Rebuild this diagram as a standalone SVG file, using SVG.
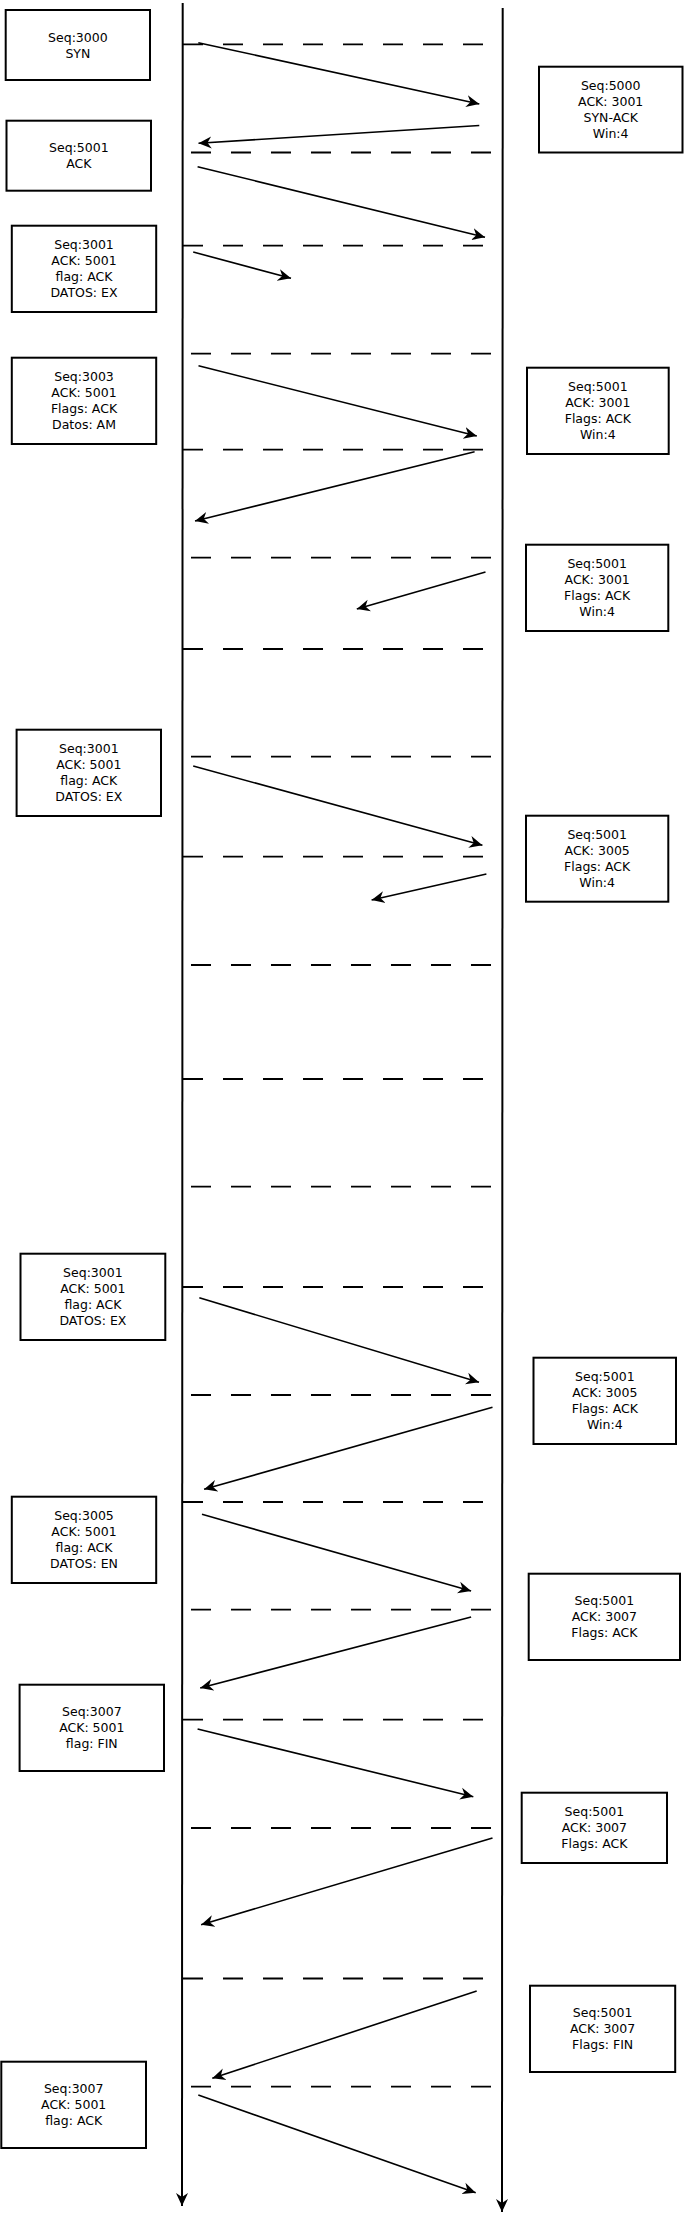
<svg xmlns="http://www.w3.org/2000/svg" width="684" height="2217" viewBox="0 0 684 2217">
<style>
.box{fill:#fff;stroke:#000;stroke-width:2}
.t{font-family:"DejaVu Sans","Liberation Sans",sans-serif;font-size:12.5px;fill:#000;text-anchor:middle}
.life{stroke:#000;stroke-width:2;fill:none}
.da{stroke:#000;stroke-width:1.8;stroke-dasharray:20 20;fill:none}
.msg{stroke:#000;stroke-width:1.6;fill:none;marker-end:url(#ah)}
</style>
<defs>
<marker id="ah" markerUnits="userSpaceOnUse" markerWidth="14" markerHeight="14" refX="13" refY="7" orient="auto">
<path d="M0,1 L13,7 L0,13 L4,7 Z" fill="#000"/>
</marker>
</defs>
<rect width="684" height="2217" fill="#fff"/>
<g id="lifelines">
<line class="life" x1="182.7" y1="3" x2="182" y2="2206" marker-end="url(#ah)"/>
<line class="life" x1="502.7" y1="8" x2="502" y2="2212" marker-end="url(#ah)"/>
</g>
<g id="separators">
<line class="da" x1="183" y1="44.3" x2="483" y2="44.3"/>
<line class="da" x1="191" y1="152.5" x2="491" y2="152.5"/>
<line class="da" x1="183" y1="245.7" x2="483" y2="245.7"/>
<line class="da" x1="191" y1="353.7" x2="491" y2="353.7"/>
<line class="da" x1="183" y1="449.7" x2="483" y2="449.7"/>
<line class="da" x1="191" y1="557.7" x2="491" y2="557.7"/>
<line class="da" x1="183" y1="649" x2="483" y2="649"/>
<line class="da" x1="191" y1="756.7" x2="491" y2="756.7"/>
<line class="da" x1="183" y1="856.7" x2="483" y2="856.7"/>
<line class="da" x1="191" y1="965" x2="491" y2="965"/>
<line class="da" x1="183" y1="1079" x2="483" y2="1079"/>
<line class="da" x1="191" y1="1186.7" x2="491" y2="1186.7"/>
<line class="da" x1="183" y1="1287" x2="483" y2="1287"/>
<line class="da" x1="191" y1="1395" x2="491" y2="1395"/>
<line class="da" x1="183" y1="1502" x2="483" y2="1502"/>
<line class="da" x1="191" y1="1609.7" x2="491" y2="1609.7"/>
<line class="da" x1="183" y1="1719.7" x2="483" y2="1719.7"/>
<line class="da" x1="191" y1="1828" x2="491" y2="1828"/>
<line class="da" x1="183" y1="1978.5" x2="483" y2="1978.5"/>
<line class="da" x1="191" y1="2086.7" x2="491" y2="2086.7"/>
</g>
<g id="connectors">
<line class="msg" x1="198.3" y1="42.7" x2="479.3" y2="104"/>
<line class="msg" x1="479.3" y1="125.5" x2="198.5" y2="143.3"/>
<line class="msg" x1="197.6" y1="166.7" x2="485" y2="237.3"/>
<line class="msg" x1="193.2" y1="252" x2="291" y2="278.3"/>
<line class="msg" x1="198.5" y1="365.7" x2="476.8" y2="436"/>
<line class="msg" x1="474.6" y1="451.7" x2="195" y2="521"/>
<line class="msg" x1="485.5" y1="572" x2="356.8" y2="609"/>
<line class="msg" x1="193.2" y1="766" x2="482.4" y2="845.3"/>
<line class="msg" x1="486.4" y1="874" x2="371.6" y2="900"/>
<line class="msg" x1="199.3" y1="1297.7" x2="479" y2="1382.3"/>
<line class="msg" x1="492.5" y1="1407.3" x2="204.1" y2="1489.3"/>
<line class="msg" x1="202" y1="1514.3" x2="471.1" y2="1591"/>
<line class="msg" x1="471.1" y1="1617" x2="200.2" y2="1688"/>
<line class="msg" x1="197.6" y1="1729" x2="473.3" y2="1796.7"/>
<line class="msg" x1="492.5" y1="1838" x2="201.1" y2="1924.7"/>
<line class="msg" x1="476.7" y1="1991" x2="212.3" y2="2078.3"/>
<line class="msg" x1="198.3" y1="2095" x2="475.7" y2="2192.7"/>
</g>
<g id="b1"><rect class="box" x="5.7" y="10" width="144.3" height="70"/>
<text class="t" x="77.9" y="41.5">Seq:3000</text><text class="t" x="77.9" y="57.5">SYN</text></g>
<g id="b2"><rect class="box" x="539" y="66.7" width="143.5" height="85.8"/>
<text class="t" x="610.7" y="90.2">Seq:5000</text><text class="t" x="610.7" y="106.2">ACK: 3001</text><text class="t" x="610.7" y="122.2">SYN-ACK</text><text class="t" x="610.7" y="138.2">Win:4</text></g>
<g id="b3"><rect class="box" x="6.5" y="120.7" width="144.5" height="70"/>
<text class="t" x="78.8" y="152.2">Seq:5001</text><text class="t" x="78.8" y="168.2">ACK</text></g>
<g id="b4"><rect class="box" x="11.8" y="225.7" width="144.4" height="86.3"/>
<text class="t" x="84" y="249.3">Seq:3001</text><text class="t" x="84" y="265.3">ACK: 5001</text><text class="t" x="84" y="281.3">flag: ACK</text><text class="t" x="84" y="297.3">DATOS: EX</text></g>
<g id="b5"><rect class="box" x="11.8" y="357.7" width="144.4" height="86.3"/>
<text class="t" x="84" y="381.3">Seq:3003</text><text class="t" x="84" y="397.3">ACK: 5001</text><text class="t" x="84" y="413.3">Flags: ACK</text><text class="t" x="84" y="429.3">Datos: AM</text></g>
<g id="b6"><rect class="box" x="527" y="367.7" width="141.7" height="86.3"/>
<text class="t" x="597.8" y="391.3">Seq:5001</text><text class="t" x="597.8" y="407.3">ACK: 3001</text><text class="t" x="597.8" y="423.3">Flags: ACK</text><text class="t" x="597.8" y="439.3">Win:4</text></g>
<g id="b7"><rect class="box" x="526" y="544.7" width="142.3" height="86.3"/>
<text class="t" x="597.2" y="568.3">Seq:5001</text><text class="t" x="597.2" y="584.3">ACK: 3001</text><text class="t" x="597.2" y="600.3">Flags: ACK</text><text class="t" x="597.2" y="616.3">Win:4</text></g>
<g id="b8"><rect class="box" x="16.6" y="729.7" width="144.4" height="86.3"/>
<text class="t" x="88.8" y="753.3">Seq:3001</text><text class="t" x="88.8" y="769.3">ACK: 5001</text><text class="t" x="88.8" y="785.3">flag: ACK</text><text class="t" x="88.8" y="801.3">DATOS: EX</text></g>
<g id="b9"><rect class="box" x="526" y="815.7" width="142.3" height="86"/>
<text class="t" x="597.2" y="839.2">Seq:5001</text><text class="t" x="597.2" y="855.2">ACK: 3005</text><text class="t" x="597.2" y="871.2">Flags: ACK</text><text class="t" x="597.2" y="887.2">Win:4</text></g>
<g id="b10"><rect class="box" x="20.5" y="1253.7" width="144.8" height="86.3"/>
<text class="t" x="92.9" y="1277.3">Seq:3001</text><text class="t" x="92.9" y="1293.3">ACK: 5001</text><text class="t" x="92.9" y="1309.3">flag: ACK</text><text class="t" x="92.9" y="1325.3">DATOS: EX</text></g>
<g id="b11"><rect class="box" x="533.5" y="1357.7" width="142.5" height="86.3"/>
<text class="t" x="604.8" y="1381.3">Seq:5001</text><text class="t" x="604.8" y="1397.3">ACK: 3005</text><text class="t" x="604.8" y="1413.3">Flags: ACK</text><text class="t" x="604.8" y="1429.3">Win:4</text></g>
<g id="b12"><rect class="box" x="11.8" y="1496.7" width="144.4" height="86.3"/>
<text class="t" x="84" y="1520.3">Seq:3005</text><text class="t" x="84" y="1536.3">ACK: 5001</text><text class="t" x="84" y="1552.3">flag: ACK</text><text class="t" x="84" y="1568.3">DATOS: EN</text></g>
<g id="b13"><rect class="box" x="528.7" y="1573.7" width="151.3" height="86.3"/>
<text class="t" x="604.4" y="1605.3">Seq:5001</text><text class="t" x="604.4" y="1621.3">ACK: 3007</text><text class="t" x="604.4" y="1637.3">Flags: ACK</text></g>
<g id="b14"><rect class="box" x="19.6" y="1684.7" width="144.4" height="86.3"/>
<text class="t" x="91.8" y="1716.3">Seq:3007</text><text class="t" x="91.8" y="1732.3">ACK: 5001</text><text class="t" x="91.8" y="1748.3">flag: FIN</text></g>
<g id="b15"><rect class="box" x="521.7" y="1792.7" width="145.3" height="70.3"/>
<text class="t" x="594.4" y="1816.3">Seq:5001</text><text class="t" x="594.4" y="1832.3">ACK: 3007</text><text class="t" x="594.4" y="1848.3">Flags: ACK</text></g>
<g id="b16"><rect class="box" x="530" y="1985.7" width="145.2" height="86.3"/>
<text class="t" x="602.6" y="2017.3">Seq:5001</text><text class="t" x="602.6" y="2033.3">ACK: 3007</text><text class="t" x="602.6" y="2049.3">Flags: FIN</text></g>
<g id="b17"><rect class="box" x="1.3" y="2061.7" width="144.7" height="86.3"/>
<text class="t" x="73.7" y="2093.3">Seq:3007</text><text class="t" x="73.7" y="2109.3">ACK: 5001</text><text class="t" x="73.7" y="2125.3">flag: ACK</text></g>
</svg>
